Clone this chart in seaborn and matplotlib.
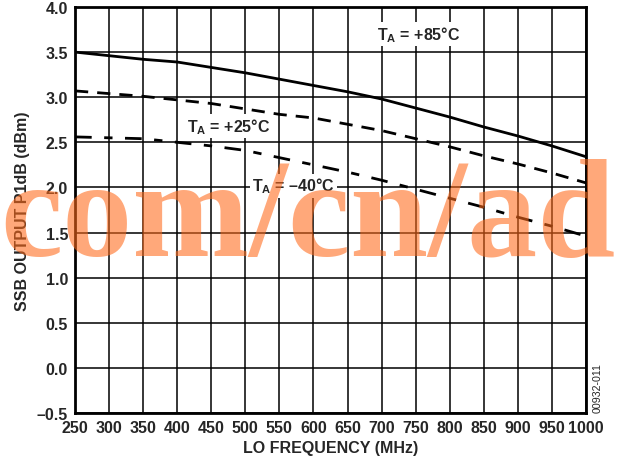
import matplotlib
matplotlib.use('Agg')

import pandas as pd
import seaborn as sns
import matplotlib.pyplot as plt

# data
freq = [250, 300, 350, 400, 450, 500, 550, 600, 650, 700, 750, 800, 850, 900, 950, 1000]
p1db_85 = [3.50, 3.46, 3.42, 3.39, 3.33, 3.27, 3.20, 3.13, 3.06, 2.98, 2.88, 2.78, 2.67, 2.57, 2.46, 2.34]
p1db_25 = [3.07, 3.04, 3.01, 2.97, 2.93, 2.87, 2.81, 2.77, 2.70, 2.63, 2.54, 2.45, 2.35, 2.26, 2.16, 2.05]
p1db_m40 = [2.56, 2.55, 2.54, 2.50, 2.46, 2.41, 2.33, 2.25, 2.17, 2.08, 1.98, 1.88, 1.78, 1.67, 1.57, 1.46]

x_ticks = list(range(250, 1001, 50))
y_ticks = [-0.5, 0.0, 0.5, 1.0, 1.5, 2.0, 2.5, 3.0, 3.5, 4.0]
y_tick_labels = ['–0.5', '0.0', '0.5', '1.0', '1.5', '2.0', '2.5', '3.0', '3.5', '4.0']

df = pd.DataFrame({
    'freq': freq * 3,
    'p1db': p1db_85 + p1db_25 + p1db_m40,
    'temp': ['+85'] * len(freq) + ['+25'] * len(freq) + ['-40'] * len(freq),
})

sns.set_style('white')
plt.rcParams['font.family'] = ['Liberation Sans', 'DejaVu Sans']
plt.rcParams['font.weight'] = 'bold'
plt.rcParams['mathtext.fontset'] = 'custom'
plt.rcParams['mathtext.rm'] = 'Liberation Sans:bold'
plt.rcParams['mathtext.bf'] = 'Liberation Sans:bold'
plt.rcParams['lines.scale_dashes'] = False

fig = plt.figure(figsize=(6.17, 4.64), dpi=100)
ax = fig.add_axes([0.1216, 0.1078, 0.8282, 0.875])

sns.lineplot(data=df, x='freq', y='p1db', style='temp',
             dashes={'+85': '', '+25': (9.5, 6.5), '-40': (12, 9, 6, 9)},
             color='black', linewidth=2.0, legend=False, ax=ax, zorder=3)

ax.set_xlim(250, 1000)
ax.set_ylim(-0.5, 4.0)
ax.set_xticks(x_ticks)
ax.set_yticks(y_ticks)
ax.set_yticklabels(y_tick_labels)
ax.grid(True, color='black', linewidth=1.1)
ax.set_axisbelow(True)
ax.tick_params(length=0, labelsize=11.5, pad=5)
for lab in ax.get_xticklabels() + ax.get_yticklabels():
    lab.set_fontweight('bold')
for sp in ax.spines.values():
    sp.set_visible(True)
    sp.set_color('black')
    sp.set_linewidth(2.0)
    sp.set_zorder(5)

ax.set_xlabel('LO FREQUENCY (MHz)', fontsize=11.5, fontweight='bold', labelpad=4)
ax.set_ylabel('SSB OUTPUT P1dB (dBm)', fontsize=11.5, fontweight='bold', labelpad=5)

box = dict(facecolor='white', edgecolor='none', pad=1.5)
ax.text(754, 3.70, r'T$_{\mathrm{A}}$ = +85°C', fontsize=11.5, fontweight='bold',
        ha='center', va='center', bbox=box, zorder=4)
ax.text(475, 2.68, r'T$_{\mathrm{A}}$ = +25°C', fontsize=11.5, fontweight='bold',
        ha='center', va='center', bbox=box, zorder=4)
ax.text(571, 2.02, r'T$_{\mathrm{A}}$ = –40°C', fontsize=11.5, fontweight='bold',
        ha='center', va='center', bbox=box, zorder=4)

fig.text(0.969, 0.110, '00932-011', rotation=90, fontsize=7.7, fontweight='normal',
         ha='center', va='bottom')

# watermark
fig.text(0.0, 0.448, 'com/cn/ad', fontsize=101, fontweight='bold',
         family='Liberation Serif', color='#ff6a1a', alpha=0.58,
         ha='left', va='baseline', zorder=10)

fig.savefig('out.png', dpi=100)
